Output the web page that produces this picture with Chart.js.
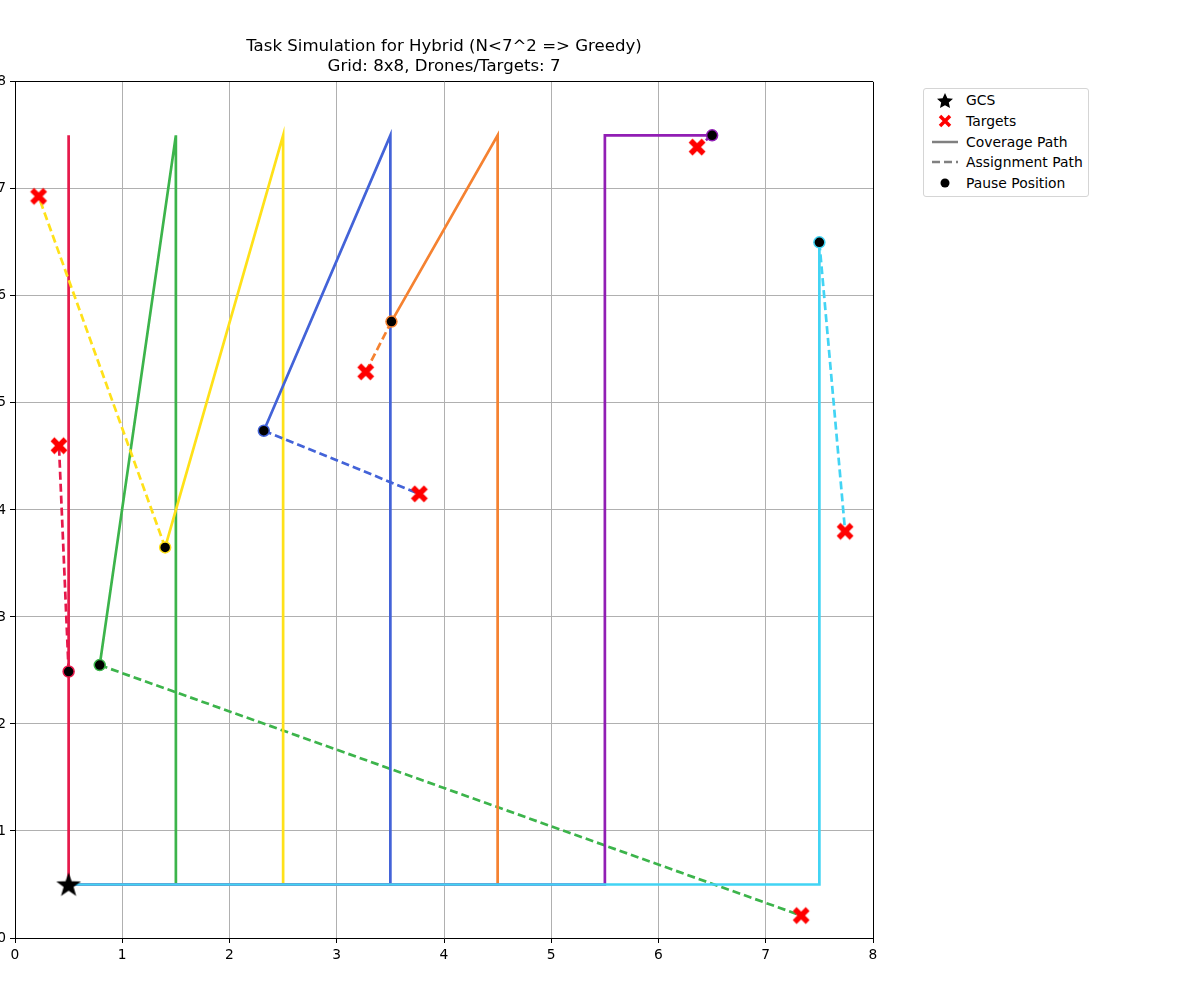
<!DOCTYPE html>
<html lang="en">
<head>
    <meta charset="UTF-8">
    <title>Task Simulation for Hybrid</title>
    <script src="https://cdn.jsdelivr.net/npm/chart.js"></script>
    <style>
        body {
            margin: 0;
            background: white;
            font-family: "DejaVu Sans", sans-serif;
            width: 1200px;
            height: 1000px;
            overflow: hidden;
            position: relative;
        }
        #wrap {
            position: absolute;
            left: -25px;
            top: 0;
            width: 913px;
            height: 980px;
        }
        #legend {
            position: absolute;
            left: 923px;
            top: 88px;
            width: 164px;
            height: 107px;
            border: 1px solid #d5d5d5;
            border-radius: 3px;
            font-size: 13.9px;
            color: #000;
        }
        .row {
            position: absolute;
            left: 0;
            height: 20px;
            line-height: 20px;
        }
        .row svg {
            position: absolute;
            left: 6px;
            top: 0;
        }
        .row span {
            position: absolute;
            left: 42px;
            white-space: nowrap;
        }
    </style>
</head>
<body>
    <div id="wrap"><canvas id="chart"></canvas></div>
    <div id="legend">
        <div class="row" style="top:1px"><svg width="30" height="20"><polygon points="15,3 17.4,8.2 23,8.8 18.8,12.6 20,18 15,15.2 10,18 11.2,12.6 7,8.8 12.6,8.2" fill="black"/></svg><span>GCS</span></div>
        <div class="row" style="top:22px"><svg width="30" height="20"><path d="M10,5 L20,15 M20,5 L10,15" stroke="red" stroke-width="3.5"/></svg><span>Targets</span></div>
        <div class="row" style="top:43px"><svg width="30" height="20"><line x1="2" y1="10" x2="28" y2="10" stroke="gray" stroke-width="2.5"/></svg><span>Coverage Path</span></div>
        <div class="row" style="top:63px"><svg width="30" height="20"><line x1="2" y1="10" x2="28" y2="10" stroke="gray" stroke-width="2.5" stroke-dasharray="8,4"/></svg><span>Assignment Path</span></div>
        <div class="row" style="top:84px"><svg width="30" height="20"><circle cx="15" cy="10" r="4.5" fill="black"/></svg><span>Pause Position</span></div>
    </div>
    <script>
        // axis ticks
        const xTicks = [0, 1, 2, 3, 4, 5, 6, 7, 8];
        const yTicks = [0, 1, 2, 3, 4, 5, 6, 7, 8];

        // ground control station
        const gcsX = [0.5];
        const gcsY = [0.5];

        // drone colours (one per drone)
        const droneColors = ['#e6194b', '#3cb44b', '#ffe119', '#4363d8', '#f58231', '#911eb4', '#42d4f4'];

        // coverage paths, one small array per drone
        const coverage0 = [[0.5, 0.5], [0.5, 7.5]];
        const coverage1 = [[0.5, 0.5], [1.5, 0.5], [1.5, 7.5], [0.79, 2.55]];
        const coverage2 = [[0.5, 0.5], [2.5, 0.5], [2.5, 7.5], [1.40, 3.65]];
        const coverage3 = [[0.5, 0.5], [3.5, 0.5], [3.5, 7.5], [2.32, 4.74]];
        const coverage4 = [[0.5, 0.5], [4.5, 0.5], [4.5, 7.5], [3.51, 5.76]];
        const coverage5 = [[0.5, 0.5], [5.5, 0.5], [5.5, 7.5], [6.5, 7.5]];
        const coverage6 = [[0.5, 0.5], [7.5, 0.5], [7.5, 6.5]];

        // pause positions and assigned targets
        const pauseX = [0.5, 0.79, 1.40, 2.32, 3.51, 6.5, 7.5];
        const pauseY = [2.49, 2.55, 3.65, 4.74, 5.76, 7.5, 6.5];
        const targetX = [0.41, 7.33, 0.22, 3.77, 3.27, 6.36, 7.74];
        const targetY = [4.60, 0.21, 6.93, 4.15, 5.29, 7.39, 3.80];

        const coveragePaths = [coverage0, coverage1, coverage2, coverage3, coverage4, coverage5, coverage6];

        // marker images
        function makeX() {
            const c = document.createElement('canvas');
            c.width = 20; c.height = 20;
            const g = c.getContext('2d');
            g.strokeStyle = 'red';
            g.lineWidth = 5.5;
            g.beginPath();
            g.moveTo(3.5, 3.5); g.lineTo(16.5, 16.5);
            g.moveTo(16.5, 3.5); g.lineTo(3.5, 16.5);
            g.stroke();
            return c;
        }
        function makeStar() {
            const c = document.createElement('canvas');
            c.width = 28; c.height = 28;
            const g = c.getContext('2d');
            g.fillStyle = 'black';
            g.beginPath();
            for (let i = 0; i < 10; i++) {
                const r = i % 2 === 0 ? 13 : 5.2;
                const a = -Math.PI / 2 + i * Math.PI / 5;
                const px = 14 + r * Math.cos(a), py = 15 + r * Math.sin(a);
                if (i === 0) g.moveTo(px, py); else g.lineTo(px, py);
            }
            g.closePath();
            g.fill();
            return c;
        }
        const xImg = makeX();
        const starImg = makeStar();

        const datasets = [];
        coveragePaths.forEach(function(path, i) {
            datasets.push({
                label: 'coverage' + i,
                data: path.map(p => ({ x: p[0], y: p[1] })),
                showLine: true,
                borderColor: droneColors[i],
                borderWidth: 2.7,
                pointRadius: 0,
                tension: 0
            });
            datasets.push({
                label: 'assign' + i,
                data: [{ x: pauseX[i], y: pauseY[i] }, { x: targetX[i], y: targetY[i] }],
                showLine: true,
                borderColor: droneColors[i],
                borderWidth: 2.7,
                borderDash: [8, 4],
                pointRadius: 0,
                tension: 0
            });
        });
        datasets.push({
            label: 'Targets',
            data: targetX.map((x, i) => ({ x: x, y: targetY[i] })),
            pointStyle: xImg,
            pointRadius: 10,
            showLine: false
        });
        datasets.push({
            label: 'Pause',
            data: pauseX.map((x, i) => ({ x: x, y: pauseY[i] })),
            pointStyle: 'circle',
            pointRadius: 5.5,
            pointBackgroundColor: 'black',
            pointBorderColor: droneColors,
            pointBorderWidth: 1.5,
            showLine: false
        });
        datasets.push({
            label: 'GCS',
            data: gcsX.map((x, i) => ({ x: x, y: gcsY[i] })),
            pointStyle: starImg,
            pointRadius: 14,
            showLine: false
        });
        // later datasets drawn on top
        datasets.forEach((d, i) => { d.order = datasets.length - i; });

        const gridColor = ctx => (ctx.tick && ctx.tick.value === 8) ? '#000000' : '#b0b0b0';

        new Chart(document.getElementById('chart'), {
            type: 'scatter',
            data: { datasets: datasets },
            options: {
                responsive: true,
                maintainAspectRatio: false,
                animation: false,
                layout: { padding: { right: 15, bottom: 10 } },
                plugins: {
                    legend: { display: false },
                    tooltip: { enabled: false },
                    title: {
                        display: true,
                        fullSize: false,
                        text: ['Task Simulation for Hybrid (N<7^2 => Greedy)', 'Grid: 8x8, Drones/Targets: 7'],
                        color: '#000',
                        font: { family: 'DejaVu Sans', size: 16.6, weight: 'normal', lineHeight: 1.2 },
                        padding: { top: 37, bottom: 5 }
                    }
                },
                scales: {
                    x: {
                        type: 'linear',
                        min: 0, max: 8,
                        afterBuildTicks: s => { s.ticks = xTicks.map(v => ({ value: v })); },
                        afterFit: s => { s.height = 32; },
                        border: { color: '#000', width: 1 },
                        grid: { color: gridColor, lineWidth: 1, tickColor: '#000', tickLength: 5 },
                        ticks: { color: '#000', padding: 4, font: { family: 'DejaVu Sans', size: 13.8 } }
                    },
                    y: {
                        type: 'linear',
                        min: 0, max: 8,
                        afterBuildTicks: s => { s.ticks = yTicks.map(v => ({ value: v })); },
                        afterFit: s => { s.width = 40; },
                        border: { color: '#000', width: 1 },
                        grid: { color: gridColor, lineWidth: 1, tickColor: '#000', tickLength: 5 },
                        ticks: { color: '#000', padding: 4, font: { family: 'DejaVu Sans', size: 13.8 } }
                    }
                }
            }
        });
    </script>
</body>
</html>
